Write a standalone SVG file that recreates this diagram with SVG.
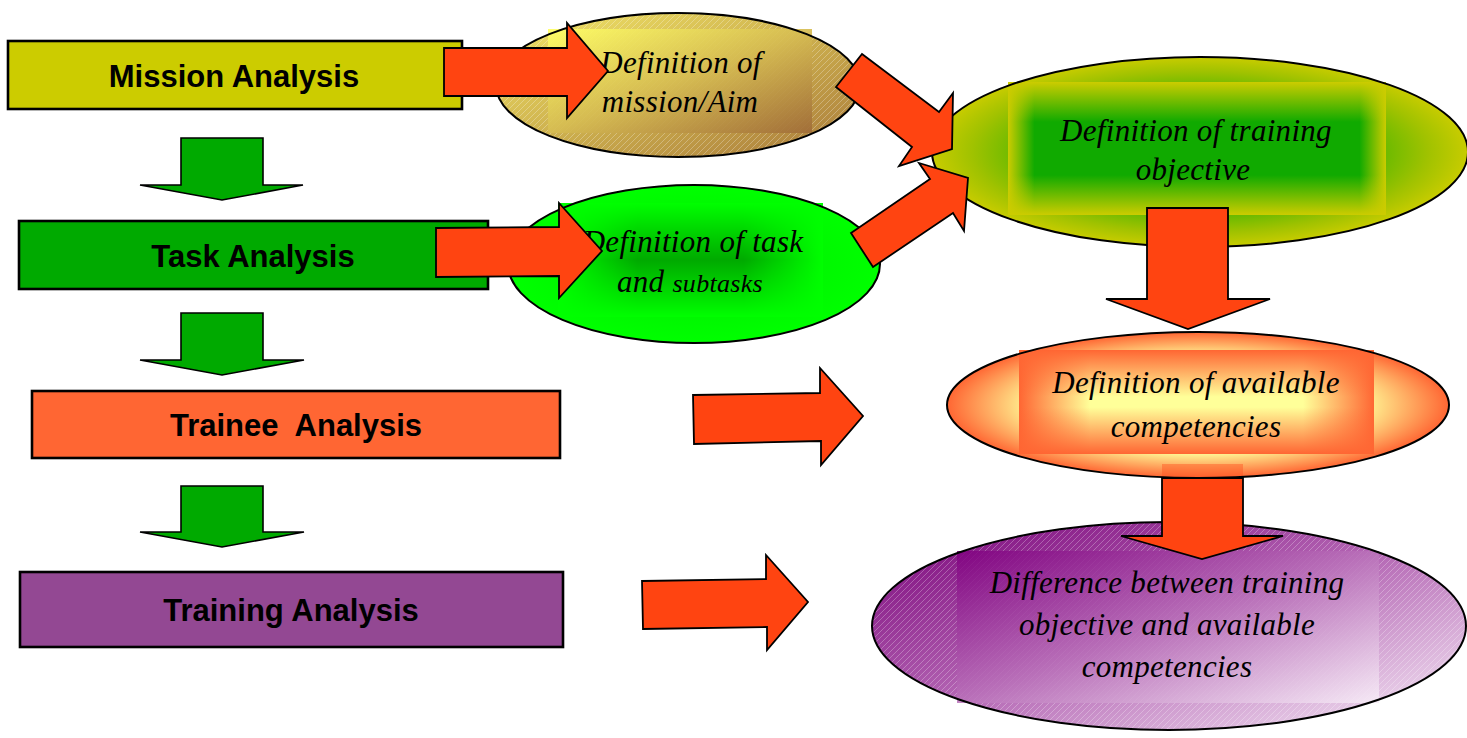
<svg xmlns="http://www.w3.org/2000/svg" width="1467" height="738" viewBox="0 0 1467 738">
  <style>
    .box { stroke: #000; stroke-width: 2.6; }
    .boxlabel { font-family: "Liberation Sans", Arial, sans-serif; font-weight: bold; font-size: 31px; text-anchor: middle; fill: #000; white-space: pre; }
    .edge { fill: none; stroke: #000; stroke-width: 2; }
    .ovallabel { font-family: "Liberation Serif", "Times New Roman", serif; font-style: italic; font-size: 31px; text-anchor: middle; fill: #000; letter-spacing: 0.3px; }
    .small { font-size: 26px; }
    .down { fill: #00AA00; stroke: #000; stroke-width: 1.6; stroke-linejoin: miter; }
    .flow { fill: #FF4411; stroke: #000; stroke-width: 1.8; stroke-linejoin: miter; }
  </style>
  <defs>
    <!-- fine diagonal hatch laid over the gold and purple ovals -->
    <pattern id="hatch" width="6" height="6" patternUnits="userSpaceOnUse">
      <path d="M-1,1 L1,-1 M0,6 L6,0 M5,7 L7,5" stroke="#fff" stroke-opacity="0.35" stroke-width="0.8"/>
    </pattern>

    <!-- gold oval -->
    <linearGradient id="goldOval" x1="0" y1="0" x2="1" y2="1">
      <stop offset="0" stop-color="#F4E868"/>
      <stop offset="0.5" stop-color="#CDB04E"/>
      <stop offset="1" stop-color="#A8783A"/>
    </linearGradient>
    <linearGradient id="goldRect" x1="0" y1="0" x2="1" y2="1">
      <stop offset="0" stop-color="#FFFF66"/>
      <stop offset="0.5" stop-color="#D6BC52"/>
      <stop offset="1" stop-color="#A06C38"/>
    </linearGradient>

    <!-- bright green oval -->
    <radialGradient id="taskOval" cx="0.5" cy="0.5" r="0.5">
      <stop offset="0" stop-color="#00E800"/>
      <stop offset="1" stop-color="#00FF00"/>
    </radialGradient>

    <!-- yellow-green oval -->
    <radialGradient id="objOval" cx="0.5" cy="0.5" r="0.5">
      <stop offset="0" stop-color="#10AA00"/>
      <stop offset="0.6" stop-color="#50B600"/>
      <stop offset="0.85" stop-color="#A0C200"/>
      <stop offset="1" stop-color="#C8CC00"/>
    </radialGradient>

    <!-- orange oval -->
    <radialGradient id="compOval" cx="0.5" cy="0.5" r="0.5">
      <stop offset="0" stop-color="#FFFFA0"/>
      <stop offset="0.68" stop-color="#FFF090"/>
      <stop offset="1" stop-color="#FF6633"/>
    </radialGradient>

    <!-- purple oval -->
    <linearGradient id="diffOval" x1="0" y1="0" x2="1" y2="1">
      <stop offset="0" stop-color="#780078"/>
      <stop offset="0.5" stop-color="#B466B4"/>
      <stop offset="1" stop-color="#FAF2FA"/>
    </linearGradient>
    <linearGradient id="diffRect" x1="0" y1="0" x2="1" y2="1">
      <stop offset="0" stop-color="#800080"/>
      <stop offset="0.5" stop-color="#BA72BA"/>
      <stop offset="1" stop-color="#F8EEF8"/>
    </linearGradient>

    <!-- edge overlays that turn a flat fill into a box-shaped gradient -->
    <linearGradient id="hGreen" x1="0" y1="0" x2="1" y2="0">
      <stop offset="0" stop-color="#00FF00" stop-opacity="1"/>
      <stop offset="0.3" stop-color="#00FF00" stop-opacity="0"/>
      <stop offset="0.7" stop-color="#00FF00" stop-opacity="0"/>
      <stop offset="1" stop-color="#00FF00" stop-opacity="1"/>
    </linearGradient>
    <linearGradient id="vGreen" x1="0" y1="0" x2="0" y2="1">
      <stop offset="0" stop-color="#00FF00" stop-opacity="1"/>
      <stop offset="0.5" stop-color="#00FF00" stop-opacity="0"/>
      <stop offset="1" stop-color="#00FF00" stop-opacity="1"/>
    </linearGradient>
    <linearGradient id="hYellow" x1="0" y1="0" x2="1" y2="0">
      <stop offset="0" stop-color="#CCCC00" stop-opacity="1"/>
      <stop offset="0.07" stop-color="#CCCC00" stop-opacity="0"/>
      <stop offset="0.93" stop-color="#CCCC00" stop-opacity="0"/>
      <stop offset="1" stop-color="#CCCC00" stop-opacity="1"/>
    </linearGradient>
    <linearGradient id="vYellow" x1="0" y1="0" x2="0" y2="1">
      <stop offset="0" stop-color="#CCCC00" stop-opacity="1"/>
      <stop offset="0.3" stop-color="#CCCC00" stop-opacity="0"/>
      <stop offset="0.7" stop-color="#CCCC00" stop-opacity="0"/>
      <stop offset="1" stop-color="#CCCC00" stop-opacity="1"/>
    </linearGradient>
    <linearGradient id="hOrange" x1="0" y1="0" x2="1" y2="0">
      <stop offset="0" stop-color="#FF6633" stop-opacity="1"/>
      <stop offset="0.2" stop-color="#FF6633" stop-opacity="0"/>
      <stop offset="0.8" stop-color="#FF6633" stop-opacity="0"/>
      <stop offset="1" stop-color="#FF6633" stop-opacity="1"/>
    </linearGradient>
    <linearGradient id="vOrange" x1="0" y1="0" x2="0" y2="1">
      <stop offset="0" stop-color="#FF6633" stop-opacity="1"/>
      <stop offset="0.45" stop-color="#FF6633" stop-opacity="0"/>
      <stop offset="0.55" stop-color="#FF6633" stop-opacity="0"/>
      <stop offset="1" stop-color="#FF6633" stop-opacity="1"/>
    </linearGradient>
  </defs>

  <rect width="1467" height="738" fill="#fff"/>

  <!-- analysis steps (left column) -->
  <g id="mission-analysis">
    <rect class="box" x="8" y="41" width="454" height="68" fill="#CCCC00"/>
    <text class="boxlabel" x="234" y="87">Mission Analysis</text>
  </g>
  <g id="task-analysis">
    <rect class="box" x="19" y="221" width="469" height="68" fill="#00AA00"/>
    <text class="boxlabel" x="253" y="267">Task Analysis</text>
  </g>
  <g id="trainee-analysis">
    <rect class="box" x="32" y="391" width="528" height="67" fill="#FF6633"/>
    <text class="boxlabel" x="296" y="436" xml:space="preserve">Trainee  Analysis</text>
  </g>
  <g id="training-analysis">
    <rect class="box" x="20" y="572" width="543" height="75" fill="#934893"/>
    <text class="boxlabel" x="291" y="621">Training Analysis</text>
  </g>

  <!-- definition ovals -->
  <g id="def-mission">
    <ellipse cx="678" cy="85" rx="182" ry="72" fill="url(#goldOval)"/>
    <ellipse cx="678" cy="85" rx="182" ry="72" fill="url(#hatch)"/>
    <rect x="548" y="29" width="264" height="104" fill="url(#goldRect)" opacity="0.92"/>
    <ellipse class="edge" cx="678" cy="85" rx="182" ry="72"/>
    <text class="ovallabel" x="681" y="73">Definition of</text>
    <text class="ovallabel" x="680" y="112">mission/Aim</text>
  </g>

  <g id="def-task">
    <ellipse cx="694" cy="264" rx="186" ry="79" fill="url(#taskOval)"/>
    <rect x="558" y="203" width="265" height="114" fill="#00AA00"/>
    <rect x="558" y="203" width="265" height="114" fill="url(#hGreen)"/>
    <rect x="558" y="203" width="265" height="114" fill="url(#vGreen)"/>
    <ellipse class="edge" cx="694" cy="264" rx="186" ry="79"/>
    <text class="ovallabel" x="693" y="252">Definition of task</text>
    <text class="ovallabel" x="690" y="292">and <tspan class="small">subtasks</tspan></text>
  </g>

  <g id="def-objective">
    <ellipse cx="1200" cy="152" rx="268" ry="95" fill="url(#objOval)"/>
    <rect x="1008" y="82" width="378" height="133" fill="#10AA00"/>
    <rect x="1008" y="82" width="378" height="133" fill="url(#hYellow)"/>
    <rect x="1008" y="82" width="378" height="133" fill="url(#vYellow)"/>
    <ellipse class="edge" cx="1200" cy="152" rx="268" ry="95"/>
    <text class="ovallabel" x="1196" y="141">Definition of training</text>
    <text class="ovallabel" x="1193" y="180">objective</text>
  </g>

  <g id="def-competencies">
    <ellipse cx="1198" cy="405" rx="251" ry="73" fill="url(#compOval)"/>
    <rect x="1019" y="350" width="355" height="104" fill="#FFFF99"/>
    <rect x="1019" y="350" width="355" height="104" fill="url(#hOrange)"/>
    <rect x="1019" y="350" width="355" height="104" fill="url(#vOrange)"/>
    <rect x="1162" y="464" width="81" height="14" fill="#FF5522" opacity="0.45"/>
    <ellipse class="edge" cx="1198" cy="405" rx="251" ry="73"/>
    <text class="ovallabel" x="1196" y="393">Definition of available</text>
    <text class="ovallabel" x="1196" y="437">competencies</text>
  </g>

  <g id="difference">
    <ellipse cx="1169" cy="626" rx="297" ry="104" fill="url(#diffOval)"/>
    <ellipse cx="1169" cy="626" rx="297" ry="104" fill="url(#hatch)"/>
    <rect x="957" y="551" width="422" height="152" fill="url(#diffRect)" opacity="0.85"/>
    <ellipse class="edge" cx="1169" cy="626" rx="297" ry="104"/>
    <text class="ovallabel" x="1167" y="593">Difference between training</text>
    <text class="ovallabel" x="1167" y="635">objective and available</text>
    <text class="ovallabel" x="1167" y="677">competencies</text>
  </g>

  <!-- block arrows -->
  <g id="connectors">
    <!-- downward steps between the analysis boxes -->
    <polygon class="down" points="181,138 263,138 263,185 303,185 222,200 140,185 181,185"/>
    <polygon class="down" points="181,313 263,313 263,360 304,360 222,375 140,360 181,360"/>
    <polygon class="down" points="181,486 263,486 263,532 304,532 222,547 140,532 181,532"/>

    <!-- analysis box to its definition -->
    <polygon class="flow" points="444,48 567,48 567,23 608,71 567,118 567,96 444,96"/>
    <polygon class="flow" points="436,228 559,227 559,203 602,251 559,298 559,276 436,277"/>
    <polygon class="flow" points="693,395 820,393 820,368 863,416 821,465 821,441 694,444"/>
    <polygon class="flow" points="642,581 766,579 766,555 808,602 767,650 767,627 643,629"/>

    <!-- mission and task definitions into the training objective -->
    <polygon class="flow" points="862,54 939,112 953,93 952,149 899,166 912,147 836,87"/>
    <polygon class="flow" points="851,233 930,179 919,163 968,178 964,231 953,213 873,267"/>

    <!-- down the right column -->
    <polygon class="flow" points="1147,208 1228,208 1228,299 1270,299 1188,329 1106,299 1147,299"/>
    <polygon class="flow" points="1162,478 1243,478 1243,536 1283,536 1202,559 1121,536 1162,536"/>
  </g>
</svg>
